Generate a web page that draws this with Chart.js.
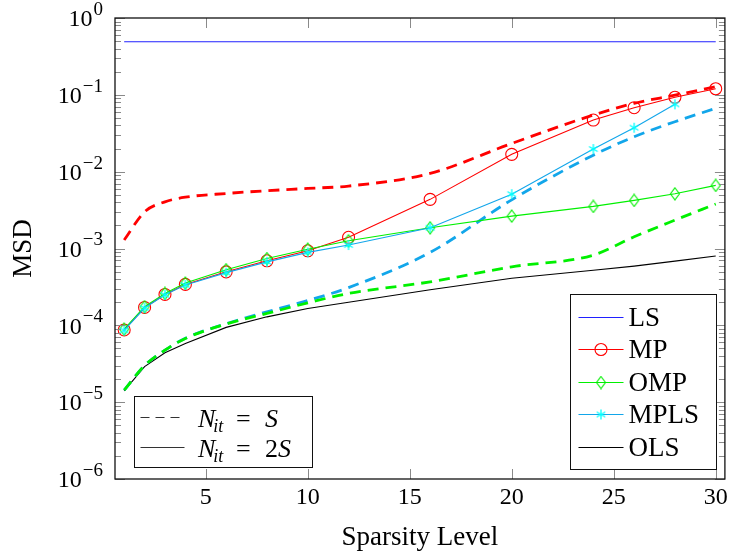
<!DOCTYPE html>
<html>
<head>
<meta charset="utf-8">
<script src="https://cdn.jsdelivr.net/npm/chart.js@4.4.1/dist/chart.umd.min.js"></script>
<style>
  html, body { margin: 0; padding: 0; background: #fff; }
  #wrap { width: 732px; height: 554px; position: relative; }
</style>
</head>
<body>
<div id="wrap"><canvas id="msdChart"></canvas></div>
<script>
// sparsity levels (x)
var sparsity = [1, 2, 3, 4, 6, 8, 10, 12, 16, 20, 24, 26, 28, 30];

// N_it = 2S (solid)
var lsMsd   = [0.49, 0.49, 0.49, 0.49, 0.49, 0.49, 0.49, 0.49, 0.49, 0.49, 0.49, 0.49, 0.49, 0.49];
var mpMsd   = [8.7e-5, 1.71e-4, 2.52e-4, 3.41e-4, 4.97e-4, 6.92e-4, 9.33e-4, 1.40e-3, 4.36e-3, 0.0168, 0.047, 0.068, 0.093, 0.12];
var ompMsd  = [8.9e-5, 1.75e-4, 2.6e-4, 3.55e-4, 5.3e-4, 7.4e-4, 9.8e-4, 1.26e-3, 1.86e-3, 2.64e-3, 3.53e-3, 4.23e-3, 5.15e-3, 6.63e-3];
var mplsMsd = [8.6e-5, 1.68e-4, 2.5e-4, 3.35e-4, 4.85e-4, 6.7e-4, 8.9e-4, 1.11e-3, 1.86e-3, 5.1e-3, 0.0197, 0.0373, 0.0752, null];
var olsMsd  = [1.4e-5, 2.9e-5, 4.4e-5, 5.8e-5, 9.4e-5, 1.29e-4, 1.66e-4, 2.0e-4, 2.9e-4, 4.1e-4, 5.2e-4, 5.9e-4, 6.85e-4, 8.0e-4];

// N_it = S (dashed)
var mpHalf   = [1.29e-3, 3.0e-3, 4.05e-3, 4.65e-3, 5.2e-3, 5.65e-3, 6.05e-3, 6.5e-3, 9.5e-3, 0.0233, 0.0546, 0.0775, 0.099, 0.128];
var ompHalf  = [1.43e-5, 3.0e-5, 4.75e-5, 6.75e-5, 1.04e-4, 1.43e-4, 1.96e-4, 2.6e-4, 3.68e-4, 5.78e-4, 8.2e-4, 1.42e-3, 2.34e-3, 3.79e-3];
var mplsHalf = [1.43e-5, 3.0e-5, 4.75e-5, 6.8e-5, 1.05e-4, 1.5e-4, 2.1e-4, 3.1e-4, 8.9e-4, 4.3e-3, 0.0164, 0.0285, 0.0447, 0.0667];

// axes
var xTicks = [5, 10, 15, 20, 25, 30];
var yExponents = [0, -1, -2, -3, -4, -5, -6];
var xTitle = "Sparsity Level";
var yTitle = "MSD";

// legends
var methodNames = ["LS", "MP", "OMP", "MPLS", "OLS"];
var iterNames = ["S", "2S"];

var FONT = '"Liberation Serif", "Times New Roman", serif';
var RED = "#ff0000", GREEN = "#00f000", BLUE = "#2020ff", SKY = "#12a6ea", CYAN = "#00ffff";

function toPoints(xs, ys) {
  var out = [];
  for (var i = 0; i < xs.length; i++) {
    if (ys[i] === null || ys[i] === undefined) continue;
    out.push({ x: xs[i], y: ys[i] });
  }
  return out;
}

// marker pictures (pgfplots style asterisk / diamond)
function makeAsterisk(color) {
  var c = document.createElement("canvas");
  c.width = 12; c.height = 12;
  var g = c.getContext("2d");
  g.strokeStyle = color; g.lineWidth = 1.3;
  g.beginPath();
  for (var k = 0; k < 3; k++) {
    var ang = Math.PI / 2 + k * Math.PI / 3;
    var dx = Math.cos(ang) * 5, dy = Math.sin(ang) * 5;
    g.moveTo(6 - dx, 6 - dy); g.lineTo(6 + dx, 6 + dy);
  }
  g.stroke();
  return c;
}

function makeDiamond(color) {
  var c = document.createElement("canvas");
  c.width = 12; c.height = 14;
  var g = c.getContext("2d");
  g.strokeStyle = color; g.lineWidth = 1.1;
  g.beginPath();
  g.moveTo(6, 1); g.lineTo(10.5, 7); g.lineTo(6, 13); g.lineTo(1.5, 7); g.closePath();
  g.stroke();
  return c;
}

var asteriskImg = makeAsterisk(CYAN);
var diamondImg = makeDiamond(GREEN);

function solidSet(label, data, color, style, order) {
  return {
    label: label, data: toPoints(sparsity, data),
    borderColor: color, backgroundColor: "rgba(0,0,0,0)",
    borderWidth: 1.1, tension: 0, order: order,
    pointStyle: style.pointStyle || false, pointRadius: style.pointRadius || 0,
    pointBorderColor: style.pointColor || color, pointBorderWidth: 1.1,
    pointHoverRadius: 0
  };
}

function dashedSet(label, data, color, order) {
  return {
    label: label, data: toPoints(sparsity, data),
    borderColor: color, borderWidth: 2.8, borderDash: [11, 7],
    cubicInterpolationMode: "monotone", pointRadius: 0, order: order
  };
}

// axes, tick labels and the two legend boxes
var decorPlugin = {
  id: "decor",
  afterDatasetsDraw: function (chart) {
    var ctx = chart.ctx;
    var a = chart.chartArea;
    var sx = chart.scales.x, sy = chart.scales.y;
    var i, k, px, py;

    ctx.save();

    // ticks inside the frame
    ctx.strokeStyle = "#8a8a8a";
    ctx.lineWidth = 1;
    ctx.beginPath();
    for (i = 0; i < xTicks.length; i++) {
      px = Math.round(sx.getPixelForValue(xTicks[i])) + 0.5;
      ctx.moveTo(px, a.bottom); ctx.lineTo(px, a.bottom - 10);
      ctx.moveTo(px, a.top); ctx.lineTo(px, a.top + 10);
    }
    for (i = 0; i < yExponents.length; i++) {
      var e = yExponents[i];
      py = Math.round(sy.getPixelForValue(Math.pow(10, e))) + 0.5;
      ctx.moveTo(a.left, py); ctx.lineTo(a.left + 10, py);
      ctx.moveTo(a.right, py); ctx.lineTo(a.right - 10, py);
      if (e === 0) continue;
      for (k = 2; k <= 9; k++) {
        py = Math.round(sy.getPixelForValue(k * Math.pow(10, e))) + 0.5;
        ctx.moveTo(a.left, py); ctx.lineTo(a.left + 6, py);
        ctx.moveTo(a.right, py); ctx.lineTo(a.right - 6, py);
      }
    }
    ctx.stroke();

    // frame
    ctx.strokeStyle = "#111";
    ctx.lineWidth = 1.3;
    ctx.strokeRect(a.left, a.top, a.right - a.left, a.bottom - a.top);

    // x tick labels
    ctx.fillStyle = "#000";
    ctx.font = "24px " + FONT;
    ctx.textAlign = "center";
    ctx.textBaseline = "middle";
    for (i = 0; i < xTicks.length; i++) {
      ctx.fillText(String(xTicks[i]), sx.getPixelForValue(xTicks[i]), a.bottom + 19);
    }

    // y tick labels 10^e
    var rightEdge = a.left - 12;
    for (i = 0; i < yExponents.length; i++) {
      var ex = yExponents[i];
      var expText = ex === 0 ? "0" : "\u2212" + (-ex);
      py = sy.getPixelForValue(Math.pow(10, ex));
      ctx.font = "19px " + FONT;
      var ew = ctx.measureText(expText).width;
      ctx.textAlign = "left";
      ctx.fillText(expText, rightEdge - ew, py - 8);
      ctx.font = "24px " + FONT;
      ctx.textAlign = "right";
      ctx.fillText("10", rightEdge - ew - 1, py + 2);
    }

    // axis titles
    ctx.font = "27px " + FONT;
    ctx.textAlign = "center";
    ctx.fillText(xTitle, (a.left + a.right) / 2, a.bottom + 59);
    ctx.save();
    ctx.translate(24, (a.top + a.bottom) / 2);
    ctx.rotate(-Math.PI / 2);
    ctx.fillText(yTitle, 0, 0);
    ctx.restore();

    // method legend (bottom right)
    var lx = 570.5, ly = 294.5, lw = 146, lh = 175;
    ctx.fillStyle = "#fff";
    ctx.fillRect(lx, ly, lw, lh);
    ctx.strokeStyle = "#111";
    ctx.lineWidth = 1;
    ctx.strokeRect(lx, ly, lw, lh);
    var styles = [
      { color: BLUE },
      { color: RED, marker: { pointStyle: "circle", radius: 6 }, mcolor: RED },
      { color: GREEN, marker: { pointStyle: diamondImg, radius: 6 } },
      { color: SKY, marker: { pointStyle: asteriskImg, radius: 6 } },
      { color: "#000" }
    ];
    for (i = 0; i < methodNames.length; i++) {
      var ry = Math.round(ly + 22 + i * 32.5) + 0.5;
      ctx.strokeStyle = styles[i].color;
      ctx.lineWidth = 1.1;
      ctx.beginPath();
      ctx.moveTo(lx + 8, ry); ctx.lineTo(lx + 53, ry);
      ctx.stroke();
      if (styles[i].marker) {
        ctx.strokeStyle = styles[i].mcolor || styles[i].color;
        ctx.fillStyle = "rgba(0,0,0,0)";
        var m = styles[i].marker;
        Chart.helpers.drawPoint(ctx, { pointStyle: m.pointStyle, radius: m.radius, rotation: 0, borderWidth: 1.1 }, lx + 30.5, ry);
      }
      ctx.fillStyle = "#000";
      ctx.font = "27px " + FONT;
      ctx.textAlign = "left";
      ctx.textBaseline = "middle";
      ctx.fillText(methodNames[i], lx + 58, ry + 1);
    }

    // iteration legend (bottom left)
    var bx = 134.5, by = 396.5, bw = 178, bh = 71;
    ctx.fillStyle = "#fff";
    ctx.fillRect(bx, by, bw, bh);
    ctx.strokeStyle = "#111";
    ctx.lineWidth = 1;
    ctx.strokeRect(bx, by, bw, bh);
    for (i = 0; i < iterNames.length; i++) {
      var iy = Math.round(by + 20 + i * 30) + 0.5;
      ctx.strokeStyle = "#333";
      ctx.lineWidth = 1;
      ctx.setLineDash(i === 0 ? [9, 6] : []);
      ctx.beginPath();
      ctx.moveTo(bx + 6, iy); ctx.lineTo(bx + 50, iy);
      ctx.stroke();
      ctx.setLineDash([]);

      ctx.fillStyle = "#000";
      ctx.textAlign = "left";
      ctx.textBaseline = "alphabetic";
      var base = iy + 9;
      ctx.font = "italic 26px " + FONT;
      ctx.fillText("N", 198, base);
      var nw = ctx.measureText("N").width;
      ctx.font = "italic 18px " + FONT;
      ctx.fillText("it", 198 + nw - 2, base + 5);
      ctx.font = "26px " + FONT;
      ctx.fillText("=", 236, base);
      var txt = iterNames[i];
      var tx = 265;
      if (txt.length > 1) {
        ctx.fillText(txt.charAt(0), tx, base);
        tx += ctx.measureText(txt.charAt(0)).width;
        txt = txt.charAt(1);
      }
      ctx.font = "italic 26px " + FONT;
      ctx.fillText(txt, tx, base);
    }

    ctx.restore();
  }
};

var msdChart = new Chart(document.getElementById("msdChart"), {
  type: "line",
  data: {
    datasets: [
      solidSet("LS", lsMsd, BLUE, {}, 9),
      solidSet("MP", mpMsd, RED, { pointStyle: "circle", pointRadius: 6 }, 3),
      solidSet("OMP", ompMsd, GREEN, { pointStyle: diamondImg, pointRadius: 6 }, 2),
      solidSet("MPLS", mplsMsd, SKY, { pointStyle: asteriskImg, pointRadius: 6, pointColor: CYAN }, 1),
      solidSet("OLS", olsMsd, "#000", {}, 8),
      dashedSet("MP (N_it=S)", mpHalf, RED, 5),
      dashedSet("OMP (N_it=S)", ompHalf, GREEN, 6),
      dashedSet("MPLS (N_it=S)", mplsHalf, SKY, 7)
    ]
  },
  options: {
    responsive: true,
    maintainAspectRatio: false,
    animation: false,
    events: [],
    layout: { padding: { left: 115, right: 4, top: 18, bottom: 75 } },
    plugins: {
      legend: { display: false },
      tooltip: { enabled: false }
    },
    scales: {
      x: { type: "linear", min: 0.55, max: 30.45, display: false },
      y: { type: "logarithmic", min: 1e-6, max: 1, display: false }
    }
  },
  plugins: [decorPlugin]
});
</script>
</body>
</html>
